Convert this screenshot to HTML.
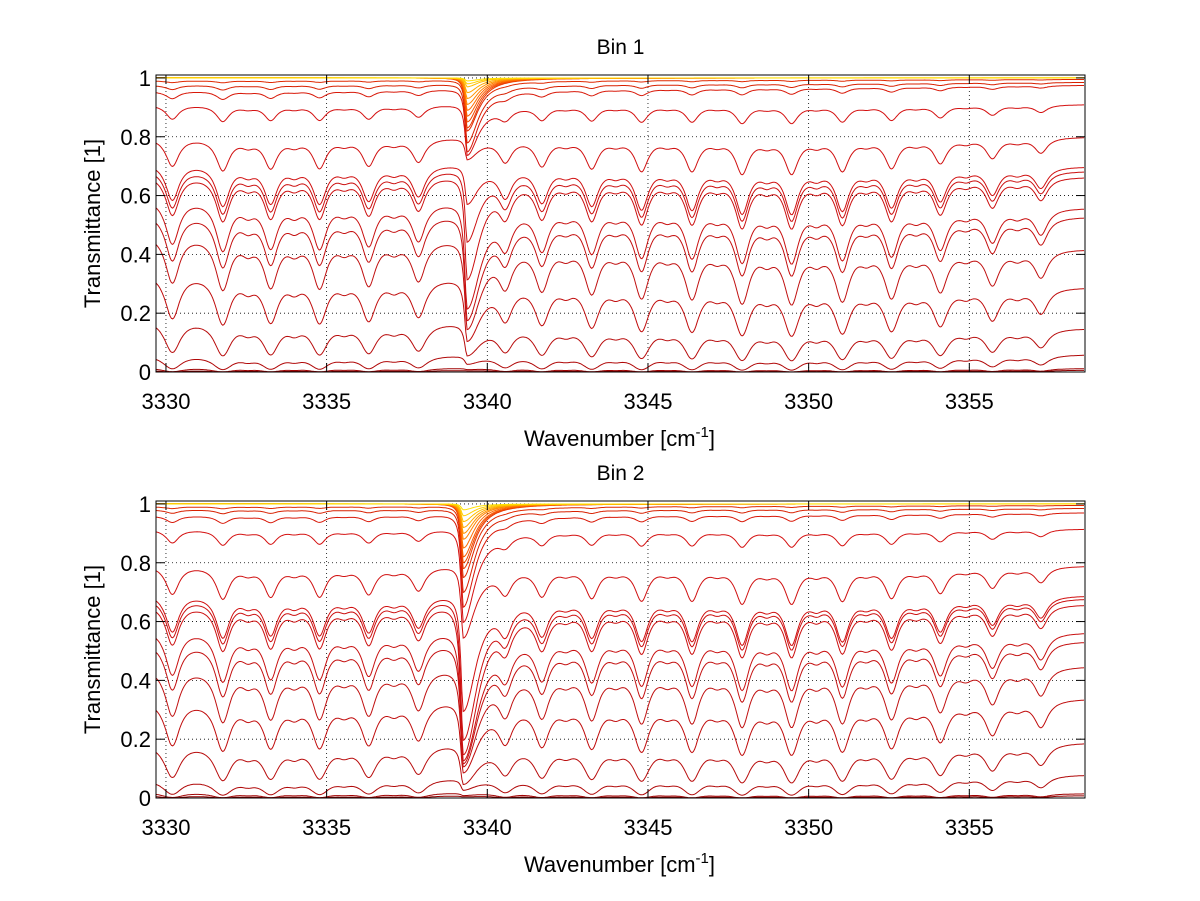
<!DOCTYPE html>
<html><head><meta charset="utf-8">
<style>
html,body{margin:0;padding:0;background:#fff;}
svg{display:block;font-family:"Liberation Sans",sans-serif;}
</style></head>
<body>
<svg id="fig" width="1200" height="901" viewBox="0 0 1200 901" xmlns="http://www.w3.org/2000/svg">
<rect x="0" y="0" width="1200" height="901" fill="#fff"/>
</svg>
<script>
// ---- data ----
const xTicks = [3330, 3335, 3340, 3345, 3350, 3355];
const yTicks = [0, 0.2, 0.4, 0.6, 0.8, 1];
const yTickLabels = ["0", "0.2", "0.4", "0.6", "0.8", "1"];
const panelTitles = ["Bin 1", "Bin 2"];
// absorption line centers [cm-1] and relative depths
const lineCenters = [3330.2,3331.77,3332.55,3333.26,3334.0,3334.78,3335.55,3336.31,3337.1,3337.86,3340.56,3341.7,3342.45,3343.25,3344.0,3344.8,3345.6,3346.37,3347.15,3347.93,3348.7,3349.47,3350.25,3351.05,3351.8,3352.58,3353.35,3354.1,3354.9,3355.72,3356.5,3357.23];
const lineDepths  = [0.58,0.66,0.12,0.6,0.12,0.6,0.1,0.55,0.1,0.48,0.45,0.55,0.1,0.6,0.1,0.66,0.1,0.66,0.1,0.72,0.12,0.72,0.12,0.66,0.1,0.6,0.1,0.5,0.08,0.4,0.08,0.3];
const strongCenter = [3339.37, 3339.25];
// bin 1 curves: continuum level at left / right edge, minimum at strong line
const bin1BaseLeft  = [1.0,1.0,1.0,1.0,1.0,1.0,1.0,1.0,1.0,1.0,0.99,0.975,0.955,0.91,0.80,0.715,0.695,0.675,0.595,0.545,0.475,0.345,0.185,0.06,0.015,0.006];
const bin1BaseRight = [1.0,1.0,1.0,1.0,1.0,1.0,1.0,1.0,1.0,1.0,0.995,0.985,0.975,0.91,0.80,0.70,0.685,0.665,0.56,0.53,0.42,0.29,0.15,0.06,0.012,0.006];
const bin1StrongMin = [0.99,0.98,0.97,0.95,0.93,0.91,0.89,0.87,0.85,0.83,0.82,0.78,0.75,0.74,0.73,0.58,0.45,0.32,0.22,0.18,0.15,0.11,0.06,0.03,0.01,0.005];
const bin2BaseLeft  = [1.0,1.0,1.0,1.0,1.0,1.0,1.0,1.0,1.0,1.0,0.99,0.98,0.96,0.915,0.795,0.70,0.685,0.665,0.58,0.535,0.45,0.34,0.19,0.065,0.02,0.008];
const bin2BaseRight = [1.0,1.0,1.0,1.0,1.0,1.0,1.0,1.0,1.0,1.0,0.995,0.985,0.97,0.915,0.79,0.69,0.68,0.66,0.565,0.535,0.45,0.34,0.19,0.08,0.015,0.008];
const bin2StrongMin = [0.98,0.96,0.94,0.92,0.9,0.88,0.85,0.82,0.8,0.78,0.75,0.7,0.65,0.6,0.55,0.3,0.2,0.15,0.13,0.12,0.11,0.09,0.05,0.03,0.01,0.005];
const curveColors = ["#ffe000","#ffd000","#ffbf00","#ffa800","#ff9400","#ff8000","#ff6a00","#f85800","#f04800","#e83800","#e02800","#d82000","#d81808","#d41010","#d01010","#d01010","#cc1010","#cc1010","#c81010","#c41010","#c01010","#c00c0c","#b80c0c","#b00808","#a00404","#900000"];

// ---- layout ----
const NS="http://www.w3.org/2000/svg";
const svg=document.getElementById('fig');
const xMin=3329.69, xMax=3358.6;
const panels=[{top:75,bottom:372,title:47,xlab:437},{top:501,bottom:798,title:473,xlab:863}];
const L=156, R=1085;
function xs(v){return L+(v-xMin)/(xMax-xMin)*(R-L);}
function mk(tag,attrs,parent){const e=document.createElementNS(NS,tag);for(const k in attrs)e.setAttribute(k,attrs[k]);(parent||svg).appendChild(e);return e;}

function spectrum(x,bl,br,smin,sc){
  const f=(x-xMin)/(xMax-xMin);
  const base=bl+(br-bl)*f;
  let tau=0;
  for(let i=0;i<lineCenters.length;i++){const d=(x-lineCenters[i])/0.24;tau+=lineDepths[i]/(1+d*d);}
  let T=Math.pow(base,1+tau);
  const dx=x-sc, g=dx<0?0.07:0.4;
  const ls=1/(1+(dx/g)*(dx/g));
  const s=Math.log(Math.max(base,1e-4)/Math.max(smin,1e-4));
  T=T*Math.exp(-Math.max(s,0)*ls);
  return T;
}

panels.forEach((p,pi)=>{
  const ys=v=>p.bottom-(v/1.01)*(p.bottom-p.top);
  const g=mk('g',{});
  xTicks.forEach(t=>{const e=mk('line',{x1:xs(t),x2:xs(t),y1:p.top,y2:p.bottom,stroke:'#000','stroke-width':0.8,'stroke-dasharray':'1,3'},g);
    });
  yTicks.forEach(t=>{if(t===0)return;const e=mk('line',{x1:L,x2:R,y1:ys(t),y2:ys(t),stroke:'#000','stroke-width':0.8,'stroke-dasharray':'1,3'},g);
    });
  const bl=pi===0?bin1BaseLeft:bin2BaseLeft, br=pi===0?bin1BaseRight:bin2BaseRight, sm=pi===0?bin1StrongMin:bin2StrongMin;
  const cg=mk('g',{},g);
  for(let c=bl.length-1;c>=0;c--){
    let pts=[];
    for(let x=xMin;x<=xMax+1e-9;x+=0.04){pts.push(xs(x).toFixed(1)+','+ys(spectrum(x,bl[c],br[c],sm[c],strongCenter[pi])).toFixed(1));}
    const e=mk('polyline',{points:pts.join(' '),fill:'none',stroke:curveColors[c],'stroke-width':1},cg);
    
    
  }
  const fr=mk('rect',{x:L,y:p.top,width:R-L,height:p.bottom-p.top,fill:'none',stroke:'#000','stroke-width':1},g);
  
  xTicks.forEach(t=>{
    mk('line',{x1:xs(t),x2:xs(t),y1:p.bottom,y2:p.bottom-9,stroke:'#000'},g);
    mk('line',{x1:xs(t),x2:xs(t),y1:p.top,y2:p.top+9,stroke:'#000'},g);
    const e=mk('text',{x:xs(t),y:p.bottom+37,'font-size':22,'text-anchor':'middle'},g);e.textContent=t;
    
  });
  yTicks.forEach((t,i)=>{
    mk('line',{x1:L,x2:L+9,y1:ys(t),y2:ys(t),stroke:'#000'},g);
    mk('line',{x1:R,x2:R-9,y1:ys(t),y2:ys(t),stroke:'#000'},g);
    const e=mk('text',{x:L-5,y:ys(t)+8,'font-size':22,'text-anchor':'end'},g);e.textContent=yTickLabels[i];
    
  });
  const ti=mk('text',{x:(L+R)/2,y:p.title+7,'font-size':21,'text-anchor':'middle'},g);ti.textContent=panelTitles[pi];
  
  const xl=mk('text',{x:(L+R)/2-1,y:p.xlab+9,'font-size':22,'text-anchor':'middle'},g);
  xl.innerHTML='Wavenumber [cm<tspan dy="-9" font-size="15">-1</tspan><tspan dy="9">]</tspan>';
  
  const cy=(p.top+p.bottom)/2;
  const yl=mk('text',{x:100,y:cy,'font-size':22,'text-anchor':'middle',transform:'rotate(-90 100 '+cy+')'},g);
  yl.textContent='Transmittance [1]';
  
});
</script>
</body></html>
